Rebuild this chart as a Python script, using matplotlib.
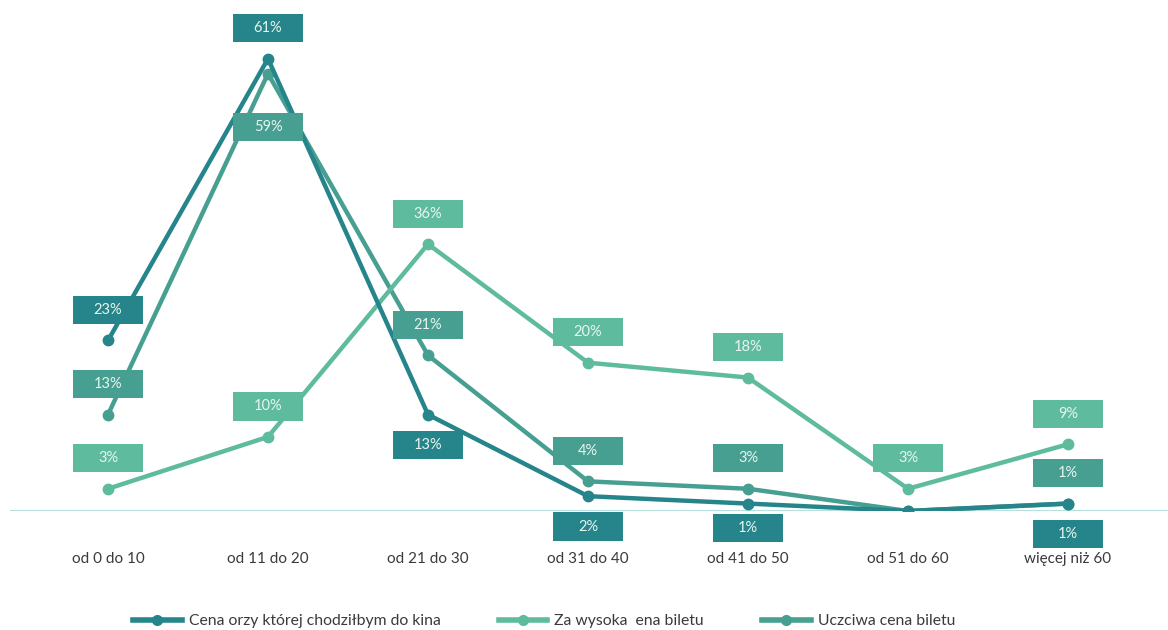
import matplotlib
matplotlib.use("Agg")
import matplotlib.pyplot as plt
from matplotlib.patches import Rectangle
from matplotlib.lines import Line2D

plt.rcParams['font.family'] = ['Lato', 'DejaVu Sans']

categories = ["od 0 do 10", "od 11 do 20", "od 21 do 30", "od 31 do 40",
              "od 41 do 50", "od 51 do 60", "więcej niż 60"]

cena_chodzilbym = [23, 61, 13, 2, 1, 0, 1]
za_wysoka = [3, 10, 36, 20, 18, 3, 9]
uczciwa = [13, 59, 21, 4, 3, 0, 1]

series_names = ["Cena orzy której chodziłbym do kina", "Za wysoka  ena biletu", "Uczciwa cena biletu"]
# +1 label above the point, -1 below
cena_side = [1, 1, -1, -1, -0.8, 1, -1]
wysoka_side = [1, 1, 1, 1, 1, 1, 1]
uczciwa_side = [1, -1.75, 1, 1, 1, 1, 1]

c_dark = "#25858a"
c_light = "#5ebb9e"
c_mid = "#479f91"

fig = plt.figure(figsize=(11.68, 6.3), dpi=100)
ax = fig.add_axes([10 / 1168, 1 - 511 / 630, 1158 / 1168, 496 / 630])
x = list(range(len(categories)))

series = [(uczciwa, c_mid, uczciwa_side), (za_wysoka, c_light, wysoka_side),
          (cena_chodzilbym, c_dark, cena_side)]
for vals, col, side in series:
    ax.plot(x, vals, color=col, lw=3.2, marker="o", ms=7.5, solid_capstyle="round", zorder=3)

# label boxes (fixed size, in data units)
box_w, box_h, gap = 0.44, 3.8, 4.1
for vals, col, side in series:
    for xi, v, s in zip(x, vals, side):
        if v == 0:
            continue
        cy = v + s * gap
        ax.add_patch(Rectangle((xi - box_w / 2, cy - box_h / 2), box_w, box_h,
                               facecolor=col, edgecolor="none", zorder=5, clip_on=False))
        ax.text(xi, cy, f"{v}%", ha="center", va="center", color="#e8f4f0",
                fontsize=10.5, zorder=6, clip_on=False)

ax.axhline(0, color="#b5e0df", lw=1.5, zorder=1)
ax.set_xlim(-0.6125, 6.625)
ax.set_ylim(0, 66.9)
for sp in ax.spines.values():
    sp.set_visible(False)
ax.set_yticks([])
ax.set_xticks(x)
ax.set_xticklabels(categories, fontsize=11, color="#3a3a3a")
ax.tick_params(axis="x", length=0, pad=29.5)

handles = [Line2D([], [], color=c_dark, lw=4, marker="o", ms=7),
           Line2D([], [], color=c_light, lw=4, marker="o", ms=7),
           Line2D([], [], color=c_mid, lw=4, marker="o", ms=7)]
fig.legend(handles, series_names, loc="center", ncol=3, frameon=False,
           bbox_to_anchor=(544 / 1168, 1 - 621 / 630), fontsize=11.3,
           handlelength=3.1, columnspacing=3.7, handletextpad=0.45,
           labelcolor="#3a3a3a")

fig.savefig("out.png", dpi=100)
